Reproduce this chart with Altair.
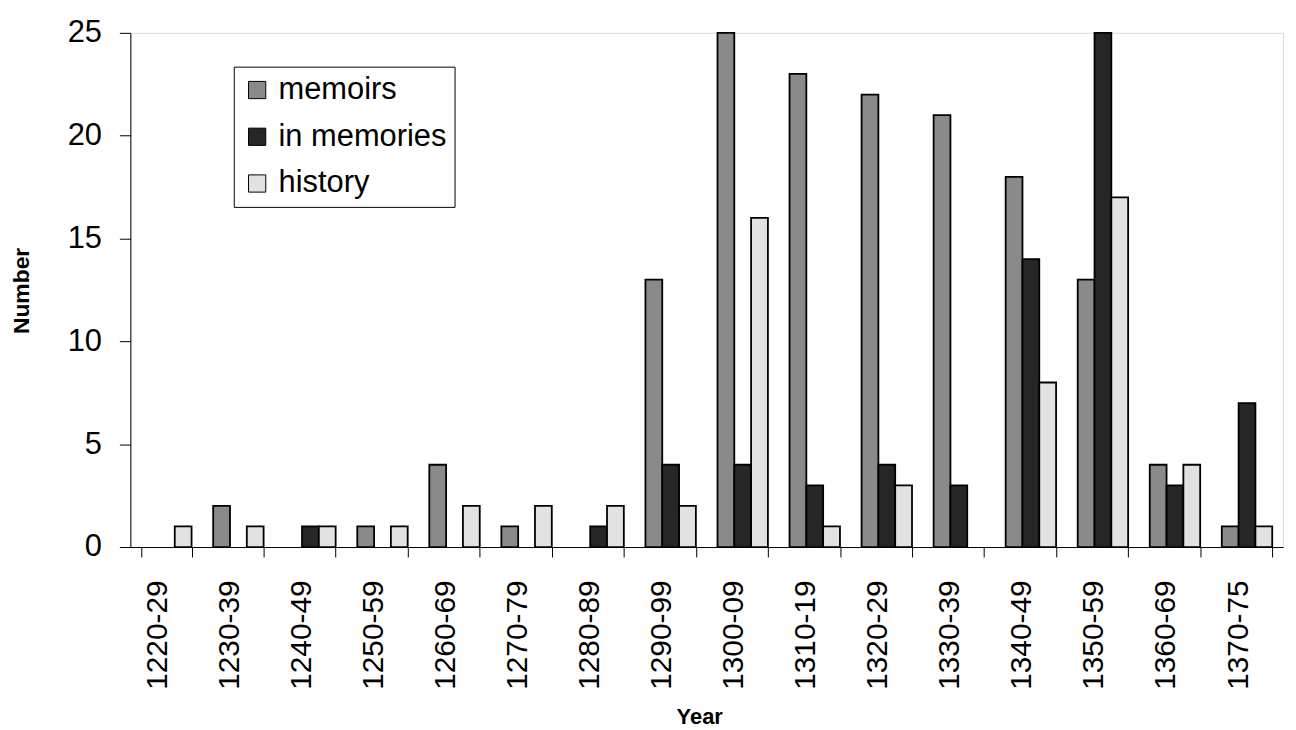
import altair as alt
import pandas as pd

categories = ["1220-29", "1230-39", "1240-49", "1250-59", "1260-69", "1270-79",
              "1280-89", "1290-99", "1300-09", "1310-19", "1320-29", "1330-39",
              "1340-49", "1350-59", "1360-69", "1370-75"]
series_names = ["memoirs", "in memories", "history"]
memoirs = [0, 2, 0, 1, 4, 1, 0, 13, 25, 23, 22, 21, 18, 13, 4, 1]
in_memories = [0, 0, 1, 0, 0, 0, 1, 4, 4, 3, 4, 3, 14, 25, 3, 7]
history = [1, 1, 1, 1, 2, 2, 2, 2, 16, 1, 3, 0, 8, 17, 4, 1]
y_ticks = [0, 5, 10, 15, 20, 25]
colors = ["#8a8a8a", "#262626", "#e2e2e2"]

rows = []
for name, vals in zip(series_names, [memoirs, in_memories, history]):
    for c, v in zip(categories, vals):
        rows.append({"Year": c, "series": name, "value": v})
df = pd.DataFrame(rows)

FONT = "Liberation Sans"

chart = alt.Chart(df).transform_filter(
    alt.datum.value > 0
).mark_bar(stroke="black", strokeWidth=1.8).encode(
    x=alt.X("Year:N", sort=categories,
            scale=alt.Scale(domain=categories, paddingInner=0.3, paddingOuter=0.15),
            axis=alt.Axis(title="Year", labelAngle=-90, labelFontSize=30,
                          labelPadding=23, labelOffset=-9, tickBand="extent",
                          tickSize=10, tickColor="black", domainColor="black",
                          titleFontSize=22, titleFontWeight="bold",
                          titleX=572, titleY=170, titleBaseline="middle",
                          titleAlign="center")),
    xOffset=alt.XOffset("series:N", sort=series_names,
                        scale=alt.Scale(domain=series_names, paddingInner=0, paddingOuter=0)),
    y=alt.Y("value:Q", scale=alt.Scale(domain=[0, 25], nice=False),
            axis=alt.Axis(title="Number", values=y_ticks, labelFontSize=31,
                          labelPadding=18, tickSize=11, tickColor="black",
                          domainColor="black", grid=False,
                          titleFontSize=23, titleFontWeight="bold",
                          titleX=-109, titleY=259, titleAngle=-90,
                          titleBaseline="middle", titleAlign="center")),
    color=alt.Color("series:N", sort=series_names,
                    scale=alt.Scale(domain=series_names, range=colors),
                    legend=alt.Legend(title=None, orient="none", legendX=104,
                                      legendY=34, labelFontSize=31,
                                      labelLimit=400,
                                      symbolType="square", symbolSize=300,
                                      symbolStrokeColor="black",
                                      symbolStrokeWidth=1, labelOffset=6,
                                      rowPadding=15, padding=8,
                                      strokeColor="black", fillColor="white")),
).properties(
    width=1159, height=517,
    autosize=alt.AutoSizeParams(type="none"),
    padding={"left": 123, "top": 23, "right": 5, "bottom": 180},
).configure_view(
    stroke="black", strokeWidth=1
).configure(
    font=FONT
).configure_axis(
    labelFont=FONT, titleFont=FONT, labelColor="black", titleColor="black"
).configure_legend(
    labelFont=FONT, labelColor="black"
)

chart.save("out.html", embed_options={"renderer": "svg", "actions": False})
